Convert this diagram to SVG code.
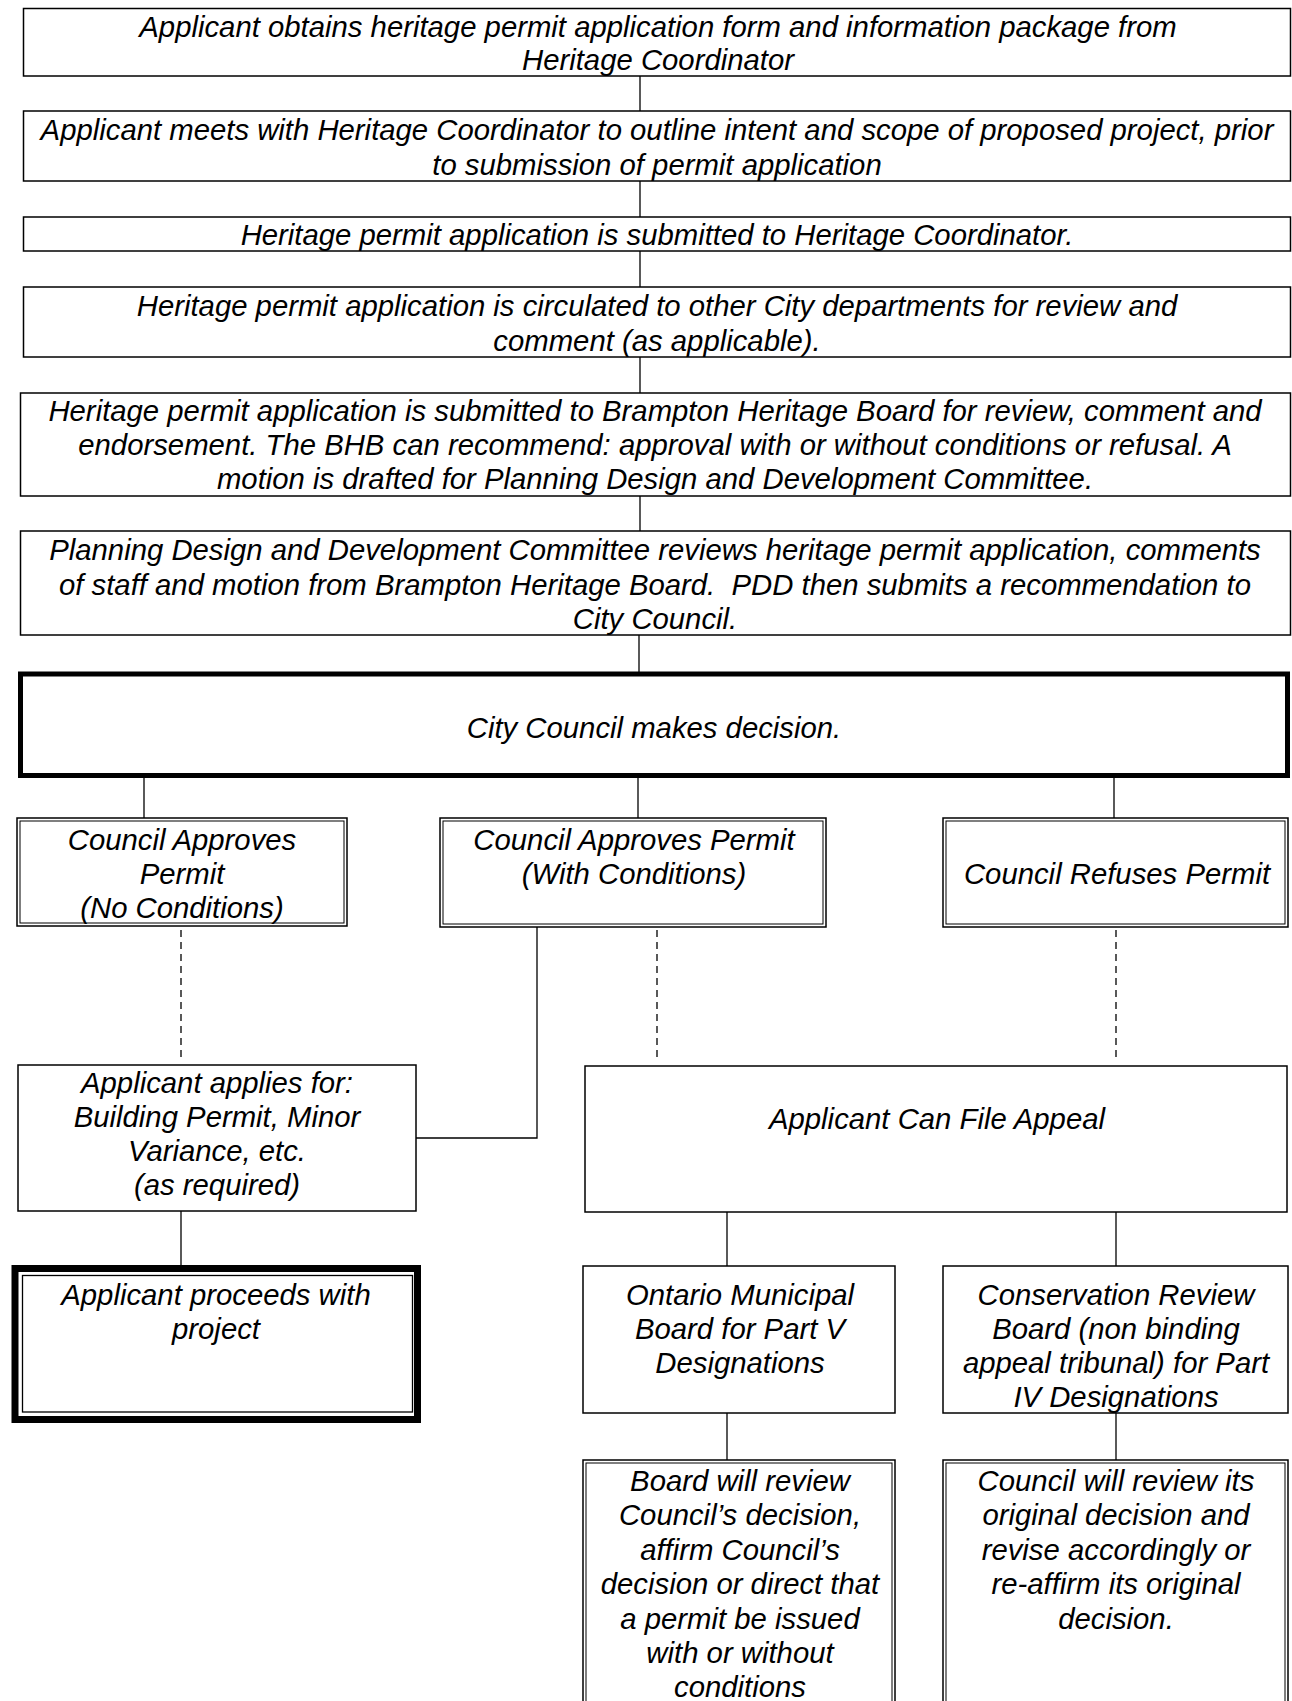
<svg xmlns="http://www.w3.org/2000/svg" width="1292" height="1701" viewBox="0 0 1292 1701">
<style>
.box{fill:#fff;stroke:#000;stroke-width:1.5}
.in{fill:none;stroke:#000;stroke-width:1}
.thick{fill:#fff;stroke:#000;stroke-width:5}
.heavy{fill:#fff;stroke:#000;stroke-width:7}
.t{font-family:"Liberation Sans",Arial,Helvetica,sans-serif;font-style:italic;font-size:29.3px;text-anchor:middle;fill:#000}
.c{stroke:#000;stroke-width:1.3;fill:none}
.d{stroke-dasharray:7 5}
</style>
<rect width="1292" height="1701" fill="#fff"/>
<g id="connectors">
<line class="c" x1="640" y1="76" x2="640" y2="111"/>
<line class="c" x1="640" y1="181" x2="640" y2="217"/>
<line class="c" x1="640" y1="251" x2="640" y2="287"/>
<line class="c" x1="640" y1="357" x2="640" y2="393"/>
<line class="c" x1="640" y1="496" x2="640" y2="531"/>
<line class="c" x1="639" y1="635" x2="639" y2="672"/>
<line class="c" x1="144" y1="778" x2="144" y2="818"/>
<line class="c" x1="638" y1="778" x2="638" y2="818"/>
<line class="c" x1="1114" y1="778" x2="1114" y2="818"/>
<line class="c d" x1="181" y1="930" x2="181" y2="1062"/>
<line class="c d" x1="657" y1="930" x2="657" y2="1062"/>
<line class="c d" x1="1116" y1="930" x2="1116" y2="1062"/>
<path class="c" d="M537 927 V1138 H416"/>
<line class="c" x1="181" y1="1211" x2="181" y2="1265"/>
<line class="c" x1="727" y1="1212" x2="727" y2="1266"/>
<line class="c" x1="1116" y1="1212" x2="1116" y2="1266"/>
<line class="c" x1="727" y1="1413" x2="727" y2="1460"/>
<line class="c" x1="1116" y1="1413" x2="1116" y2="1460"/>
</g>
<g id="n1">
<rect class="box" x="23.5" y="8.5" width="1267" height="67.5"/>
<text class="t" x="658" y="37">Applicant obtains heritage permit application form and information package from</text>
<text class="t" x="658" y="70">Heritage Coordinator</text>
</g>
<g id="n2">
<rect class="box" x="23.5" y="111" width="1267" height="70"/>
<text class="t" x="657" y="140">Applicant meets with Heritage Coordinator to outline intent and scope of proposed project, prior</text>
<text class="t" x="657" y="175">to submission of permit application</text>
</g>
<g id="n3">
<rect class="box" x="23.5" y="217" width="1267" height="34"/>
<text class="t" x="657" y="245">Heritage permit application is submitted to Heritage Coordinator.</text>
</g>
<g id="n4">
<rect class="box" x="23.5" y="287" width="1267" height="70"/>
<text class="t" x="657" y="316">Heritage permit application is circulated to other City departments for review and</text>
<text class="t" x="657" y="351">comment (as applicable).</text>
</g>
<g id="n5">
<rect class="box" x="20.5" y="393" width="1270" height="103"/>
<text class="t" x="655" y="421">Heritage permit application is submitted to Brampton Heritage Board for review, comment and</text>
<text class="t" x="655" y="455">endorsement. The BHB can recommend: approval with or without conditions or refusal. A</text>
<text class="t" x="655" y="489">motion is drafted for Planning Design and Development Committee.</text>
</g>
<g id="n6">
<rect class="box" x="20.5" y="531" width="1270" height="104"/>
<text class="t" x="655" y="560">Planning Design and Development Committee reviews heritage permit application, comments</text>
<text class="t" x="655" y="595" xml:space="preserve">of staff and motion from Brampton Heritage Board.  PDD then submits a recommendation to</text>
<text class="t" x="655" y="629">City Council.</text>
</g>
<g id="n7">
<rect class="thick" x="20.5" y="674" width="1267" height="101.5"/>
<text class="t" x="654" y="738">City Council makes decision.</text>
</g>
<g id="n8">
<rect class="box" x="17" y="818" width="330" height="108"/>
<rect class="in" x="20" y="821" width="324" height="102"/>
<text class="t" x="182" y="850">Council Approves</text>
<text class="t" x="182" y="884">Permit</text>
<text class="t" x="182" y="918">(No Conditions)</text>
</g>
<g id="n9">
<rect class="box" x="440" y="818" width="386" height="109"/>
<rect class="in" x="443" y="821" width="380" height="103"/>
<text class="t" x="634" y="850">Council Approves Permit</text>
<text class="t" x="634" y="884">(With Conditions)</text>
</g>
<g id="n10">
<rect class="box" x="943" y="818" width="345" height="109"/>
<rect class="in" x="946" y="821" width="339" height="103"/>
<text class="t" x="1117" y="884">Council Refuses Permit</text>
</g>
<g id="n11">
<rect class="box" x="18" y="1065" width="398" height="146"/>
<text class="t" x="217" y="1093">Applicant applies for:</text>
<text class="t" x="217" y="1127">Building Permit, Minor</text>
<text class="t" x="217" y="1161">Variance, etc.</text>
<text class="t" x="217" y="1195">(as required)</text>
</g>
<g id="n12">
<rect class="box" x="585" y="1066" width="702" height="146"/>
<text class="t" x="937" y="1129">Applicant Can File Appeal</text>
</g>
<g id="n13">
<rect class="heavy" x="15" y="1268.5" width="402.5" height="151"/>
<rect class="in" x="22.5" y="1275.5" width="390" height="136.5" style="stroke-width:1.3"/>
<text class="t" x="216" y="1305">Applicant proceeds with</text>
<text class="t" x="216" y="1339">project</text>
</g>
<g id="n14">
<rect class="box" x="583" y="1266" width="312" height="147"/>
<text class="t" x="740" y="1305">Ontario Municipal</text>
<text class="t" x="740" y="1339">Board for Part V</text>
<text class="t" x="740" y="1373">Designations</text>
</g>
<g id="n15">
<rect class="box" x="943" y="1266" width="345" height="147"/>
<text class="t" x="1116" y="1305">Conservation Review</text>
<text class="t" x="1116" y="1339">Board (non binding</text>
<text class="t" x="1116" y="1373">appeal tribunal) for Part</text>
<text class="t" x="1116" y="1407">IV Designations</text>
</g>
<g id="n16">
<rect class="box" x="583" y="1460" width="312" height="260"/>
<rect class="in" x="586" y="1463" width="306" height="254"/>
<text class="t" x="740" y="1491">Board will review</text>
<text class="t" x="740" y="1525">Council’s decision,</text>
<text class="t" x="740" y="1560">affirm Council’s</text>
<text class="t" x="740" y="1594">decision or direct that</text>
<text class="t" x="740" y="1629">a permit be issued</text>
<text class="t" x="740" y="1663">with or without</text>
<text class="t" x="740" y="1697">conditions</text>
</g>
<g id="n17">
<rect class="box" x="943" y="1460" width="345" height="260"/>
<rect class="in" x="946" y="1463" width="339" height="254"/>
<text class="t" x="1116" y="1491">Council will review its</text>
<text class="t" x="1116" y="1525">original decision and</text>
<text class="t" x="1116" y="1560">revise accordingly or</text>
<text class="t" x="1116" y="1594">re-affirm its original</text>
<text class="t" x="1116" y="1629">decision.</text>
</g>
</svg>
